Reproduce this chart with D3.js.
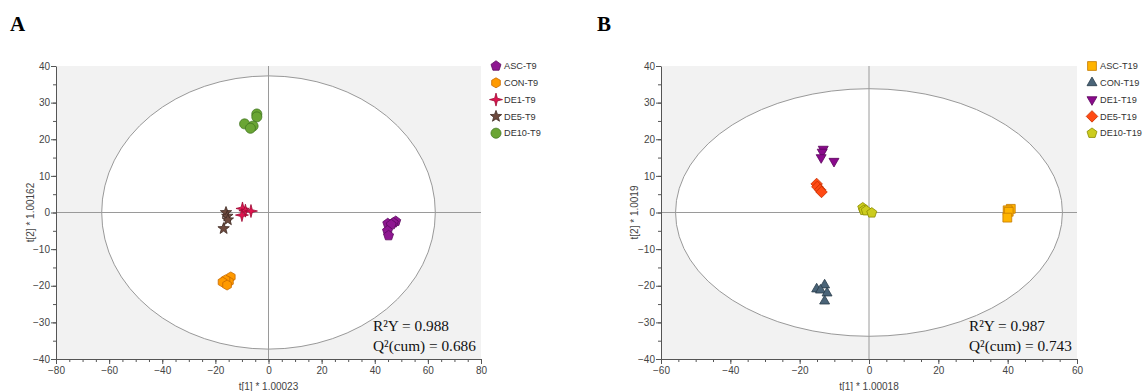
<!DOCTYPE html>
<html>
<head>
<meta charset="utf-8">
<script src="https://cdn.jsdelivr.net/npm/d3@7"></script>
<style>
  body { margin: 0; background: #fff; }
  svg { display: block; font-family: "Liberation Sans", "Noto Sans", sans-serif; }
  .tick text { fill: #444; font-size: 10px; }
  .domain, .tick line { stroke: #555; }
</style>
</head>
<body>
<script>
// ---- data: panel A (T9) ----
const groupsA = ["ASC-T9", "CON-T9", "DE1-T9", "DE5-T9", "DE10-T9"];
const ascT9  = [[47.9, -2.4], [47.0, -2.8], [44.9, -3.0], [46.2, -3.3], [44.8, -5.0], [45.2, -6.3]];
const conT9  = [[-14.2, -17.6], [-14.9, -18.9], [-16.2, -18.4], [-17.3, -19.0], [-15.6, -19.8]];
const de1T9  = [[-9.8, 1.1], [-8.7, 0.5], [-6.6, 0.4], [-10.0, -0.7]];
const de5T9  = [[-16.0, 0.0], [-15.5, -1.0], [-15.3, -2.0], [-16.9, -4.4]];
const de10T9 = [[-4.4, 26.9], [-4.4, 26.1], [-9.0, 24.2], [-5.8, 23.6], [-6.8, 23.0]];
const statsA = ["R²Y = 0.988", "Q²(cum) = 0.686"];

// ---- data: panel B (T19) ----
const groupsB = ["ASC-T19", "CON-T19", "DE1-T19", "DE5-T19", "DE10-T19"];
const ascT19  = [[40.9, 1.0], [40.0, 0.6], [40.3, 0.2], [39.9, -1.4]];
const conT19  = [[-12.8, -19.8], [-15.1, -20.9], [-14.0, -21.2], [-12.1, -22.0], [-12.8, -24.2]];
const de1T19  = [[-13.2, 17.3], [-13.5, 16.5], [-13.8, 15.0], [-10.1, 14.0]];
const de5T19  = [[-15.1, 7.8], [-14.9, 7.0], [-14.1, 6.2], [-13.7, 5.6]];
const de10T19 = [[-1.8, 1.3], [-1.5, 0.6], [-0.8, 0.5], [0.8, -0.1]];
const statsB = ["R²Y = 0.987", "Q²(cum) = 0.743"];

const ticksMajorA = d3.range(-80, 81, 20);
const ticksMajorB = d3.range(-60, 61, 20);
const ticksY = d3.range(-40, 41, 10);

// marker shapes (path generators, r = outer radius)
function poly(n, r, start) {
  const pts = d3.range(n).map(i => {
    const a = start + i * 2 * Math.PI / n;
    return [r * Math.cos(a), r * Math.sin(a)];
  });
  return "M" + pts.map(p => p.join(",")).join("L") + "Z";
}
function starN(n, r, ri) {
  const pts = d3.range(2 * n).map(i => {
    const a = -Math.PI / 2 + i * Math.PI / n;
    const rr = i % 2 ? ri : r;
    return [rr * Math.cos(a), rr * Math.sin(a)];
  });
  return "M" + pts.map(p => p.join(",")).join("L") + "Z";
}
const shapes = {
  pentagon: r => poly(5, r * 1.05, -Math.PI / 2),
  hexagon: r => poly(6, r, -Math.PI / 2),
  star4: r => starN(4, r * 1.3, r * 0.38),
  star5: r => starN(5, r * 1.2, r * 0.5),
  circle: r => poly(40, r, 0),
  square: r => poly(4, r * 1.25, Math.PI / 4),
  triUp: r => poly(3, r * 1.15, -Math.PI / 2),
  triDown: r => poly(3, r * 1.15, Math.PI / 2),
  diamond: r => poly(4, r * 1.15, -Math.PI / 2)
};

const panels = [
  {
    letter: "A", groups: groupsA, series: [ascT9, conT9, de1T9, de5T9, de10T9],
    shapes: ["pentagon", "hexagon", "star4", "star5", "circle"],
    fills: ["#8e1791", "#ff9a00", "#e0144f", "#6e4a3e", "#6aa534"],
    strokes: ["#5c0a5e", "#c86a00", "#9c0a33", "#3f2a22", "#3f7420"],
    xDomain: [-80, 80], xRange: [56, 481], xTicks: ticksMajorA,
    ell: [62.8, 37.3],
    xLabel: "t[1] * 1.00023", yLabel: "t[2] * 1.00162", yLabelX: 30,
    stats: statsA, statsX: 373, legendX: 496, letterX: 10
  },
  {
    letter: "B", groups: groupsB, series: [ascT19, conT19, de1T19, de5T19, de10T19],
    shapes: ["square", "triUp", "triDown", "diamond", "pentagon"],
    fills: ["#ffb400", "#4a6478", "#8a0a8c", "#ff4a14", "#cccc1e"],
    strokes: ["#c47a00", "#2a3c4a", "#5a055c", "#c42e00", "#8c8c00"],
    xDomain: [-60, 60], xRange: [661, 1077], xTicks: ticksMajorB,
    ell: [55.8, 33.8],
    xLabel: "t[1] * 1.00018", yLabel: "t[2] * 1.0019", yLabelX: 634,
    stats: statsB, statsX: 969, legendX: 1092, letterX: 597
  }
];

const svg = d3.select("body").append("svg")
  .attr("width", 1143)
  .attr("height", 391);

panels.forEach(p => {
  const x = d3.scaleLinear().domain(p.xDomain).range(p.xRange);
  const y = d3.scaleLinear().domain([-40, 40]).range([359, 66]);
  const g = svg.append("g");

  // panel letter
  g.append("text")
    .attr("x", p.letterX).attr("y", 31)
    .attr("font-family", "Liberation Serif, serif")
    .attr("font-weight", "bold")
    .attr("font-size", 21)
    .text(p.letter);

  // grey plot background
  g.append("rect")
    .attr("x", x(p.xDomain[0])).attr("y", y(40))
    .attr("width", x(p.xDomain[1]) - x(p.xDomain[0]))
    .attr("height", y(-40) - y(40))
    .attr("fill", "#f2f2f2");

  // Hotelling ellipse
  g.append("ellipse")
    .attr("cx", x(0)).attr("cy", y(0))
    .attr("rx", x(p.ell[0]) - x(0))
    .attr("ry", y(0) - y(p.ell[1]))
    .attr("fill", "#fff")
    .attr("stroke", "#999")
    .attr("stroke-width", 1);

  // zero lines
  g.append("line")
    .attr("x1", x(p.xDomain[0])).attr("x2", x(p.xDomain[1]))
    .attr("y1", y(0)).attr("y2", y(0))
    .attr("stroke", "#9a9a9a");
  g.append("line")
    .attr("x1", x(0)).attr("x2", x(0))
    .attr("y1", y(40)).attr("y2", y(-40))
    .attr("stroke", "#9a9a9a");

  // minor ticks
  g.append("g")
    .attr("transform", `translate(0,${y(-40)})`)
    .call(d3.axisBottom(x).tickValues(d3.range(p.xDomain[0], p.xDomain[1] + 1, 5)).tickSize(3).tickFormat(""))
    .call(a => a.select(".domain").remove());
  g.append("g")
    .attr("transform", `translate(${x(p.xDomain[0])},0)`)
    .call(d3.axisLeft(y).tickValues(d3.range(-40, 41, 5)).tickSize(3).tickFormat(""))
    .call(a => a.select(".domain").remove());

  // major axes
  g.append("g")
    .attr("transform", `translate(0,${y(-40)})`)
    .call(d3.axisBottom(x).tickValues(p.xTicks).tickSize(5).tickSizeOuter(0).tickPadding(3));
  g.append("g")
    .attr("transform", `translate(${x(p.xDomain[0])},0)`)
    .call(d3.axisLeft(y).tickValues(ticksY).tickSize(5).tickSizeOuter(0).tickPadding(1));

  // axis titles
  g.append("text")
    .attr("x", x(0)).attr("y", 390)
    .attr("text-anchor", "middle")
    .attr("font-size", 10).attr("fill", "#444")
    .text(p.xLabel);
  g.append("text")
    .attr("transform", `translate(${p.yLabelX},${y(0)}) rotate(-90)`)
    .attr("text-anchor", "middle")
    .attr("dy", "0.35em")
    .attr("font-size", 10).attr("fill", "#444")
    .text(p.yLabel);

  // points
  p.series.forEach((pts, i) => {
    g.append("g").selectAll("path")
      .data(pts)
      .enter()
      .append("path")
      .attr("transform", d => `translate(${x(d[0])},${y(d[1])})`)
      .attr("d", shapes[p.shapes[i]](5))
      .attr("fill", p.fills[i])
      .attr("stroke", p.strokes[i])
      .attr("stroke-width", 0.8);
  });

  // stats text
  g.selectAll(".stat")
    .data(p.stats)
    .enter()
    .append("text")
    .attr("x", p.statsX)
    .attr("y", (d, i) => 331 + i * 20)
    .attr("font-family", "Liberation Serif, serif")
    .attr("font-size", 15.3)
    .attr("fill", "#111")
    .text(d => d);

  // legend
  const leg = g.selectAll(".legend-item")
    .data(p.groups)
    .enter()
    .append("g")
    .attr("transform", (d, i) => `translate(${p.legendX},${66 + i * 16.8})`);
  leg.append("path")
    .attr("d", (d, i) => shapes[p.shapes[i]](5))
    .attr("fill", (d, i) => p.fills[i])
    .attr("stroke", (d, i) => p.strokes[i])
    .attr("stroke-width", 0.8);
  leg.append("text")
    .attr("x", 8)
    .attr("dy", "0.35em")
    .attr("font-size", 9.2)
    .attr("fill", "#333")
    .text(d => d);
});
</script>
</body>
</html>
